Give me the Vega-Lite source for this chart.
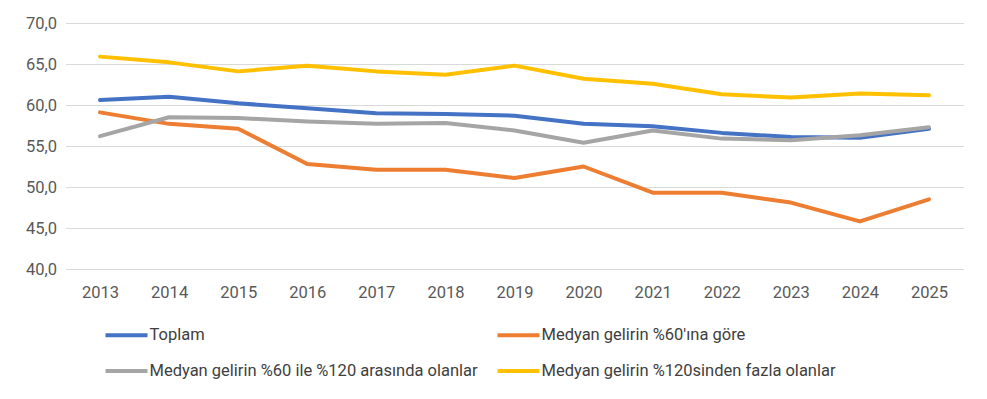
{
  "$schema": "https://vega.github.io/schema/vega-lite/v6.json",
  "width": 898,
  "height": 246,
  "autosize": {"type": "none"},
  "padding": {"left": 65.5, "top": 23, "right": 23.5, "bottom": 130},
  "background": "white",
  "config": {
    "font": "Roboto",
    "view": {"stroke": null}
  },
  "data": {
    "values": [
      {"year": "2013", "series": "Toplam", "value": 60.6},
      {"year": "2014", "series": "Toplam", "value": 61.0},
      {"year": "2015", "series": "Toplam", "value": 60.2},
      {"year": "2016", "series": "Toplam", "value": 59.6},
      {"year": "2017", "series": "Toplam", "value": 59.0},
      {"year": "2018", "series": "Toplam", "value": 58.9},
      {"year": "2019", "series": "Toplam", "value": 58.7},
      {"year": "2020", "series": "Toplam", "value": 57.7},
      {"year": "2021", "series": "Toplam", "value": 57.4},
      {"year": "2022", "series": "Toplam", "value": 56.6},
      {"year": "2023", "series": "Toplam", "value": 56.1},
      {"year": "2024", "series": "Toplam", "value": 56.0},
      {"year": "2025", "series": "Toplam", "value": 57.1},
      {"year": "2013", "series": "Medyan gelirin %60'ına göre", "value": 59.1},
      {"year": "2014", "series": "Medyan gelirin %60'ına göre", "value": 57.7},
      {"year": "2015", "series": "Medyan gelirin %60'ına göre", "value": 57.1},
      {"year": "2016", "series": "Medyan gelirin %60'ına göre", "value": 52.8},
      {"year": "2017", "series": "Medyan gelirin %60'ına göre", "value": 52.1},
      {"year": "2018", "series": "Medyan gelirin %60'ına göre", "value": 52.1},
      {"year": "2019", "series": "Medyan gelirin %60'ına göre", "value": 51.1},
      {"year": "2020", "series": "Medyan gelirin %60'ına göre", "value": 52.5},
      {"year": "2021", "series": "Medyan gelirin %60'ına göre", "value": 49.3},
      {"year": "2022", "series": "Medyan gelirin %60'ına göre", "value": 49.3},
      {"year": "2023", "series": "Medyan gelirin %60'ına göre", "value": 48.1},
      {"year": "2024", "series": "Medyan gelirin %60'ına göre", "value": 45.8},
      {"year": "2025", "series": "Medyan gelirin %60'ına göre", "value": 48.5},
      {"year": "2013", "series": "Medyan gelirin %60 ile %120 arasında olanlar", "value": 56.2},
      {"year": "2014", "series": "Medyan gelirin %60 ile %120 arasında olanlar", "value": 58.5},
      {"year": "2015", "series": "Medyan gelirin %60 ile %120 arasında olanlar", "value": 58.4},
      {"year": "2016", "series": "Medyan gelirin %60 ile %120 arasında olanlar", "value": 58.0},
      {"year": "2017", "series": "Medyan gelirin %60 ile %120 arasında olanlar", "value": 57.7},
      {"year": "2018", "series": "Medyan gelirin %60 ile %120 arasında olanlar", "value": 57.8},
      {"year": "2019", "series": "Medyan gelirin %60 ile %120 arasında olanlar", "value": 56.9},
      {"year": "2020", "series": "Medyan gelirin %60 ile %120 arasında olanlar", "value": 55.4},
      {"year": "2021", "series": "Medyan gelirin %60 ile %120 arasında olanlar", "value": 56.9},
      {"year": "2022", "series": "Medyan gelirin %60 ile %120 arasında olanlar", "value": 55.9},
      {"year": "2023", "series": "Medyan gelirin %60 ile %120 arasında olanlar", "value": 55.7},
      {"year": "2024", "series": "Medyan gelirin %60 ile %120 arasında olanlar", "value": 56.3},
      {"year": "2025", "series": "Medyan gelirin %60 ile %120 arasında olanlar", "value": 57.3},
      {"year": "2013", "series": "Medyan gelirin %120sinden fazla olanlar", "value": 65.9},
      {"year": "2014", "series": "Medyan gelirin %120sinden fazla olanlar", "value": 65.2},
      {"year": "2015", "series": "Medyan gelirin %120sinden fazla olanlar", "value": 64.1},
      {"year": "2016", "series": "Medyan gelirin %120sinden fazla olanlar", "value": 64.8},
      {"year": "2017", "series": "Medyan gelirin %120sinden fazla olanlar", "value": 64.1},
      {"year": "2018", "series": "Medyan gelirin %120sinden fazla olanlar", "value": 63.7},
      {"year": "2019", "series": "Medyan gelirin %120sinden fazla olanlar", "value": 64.8},
      {"year": "2020", "series": "Medyan gelirin %120sinden fazla olanlar", "value": 63.2},
      {"year": "2021", "series": "Medyan gelirin %120sinden fazla olanlar", "value": 62.6},
      {"year": "2022", "series": "Medyan gelirin %120sinden fazla olanlar", "value": 61.3},
      {"year": "2023", "series": "Medyan gelirin %120sinden fazla olanlar", "value": 60.9},
      {"year": "2024", "series": "Medyan gelirin %120sinden fazla olanlar", "value": 61.4},
      {"year": "2025", "series": "Medyan gelirin %120sinden fazla olanlar", "value": 61.2}
    ]
  },
  "mark": {"type": "line", "strokeWidth": 4, "strokeCap": "round", "strokeJoin": "round"},
  "encoding": {
    "x": {
      "field": "year",
      "type": "ordinal",
      "scale": {"type": "point", "padding": 0.5},
      "axis": {
        "title": null,
        "labelAngle": 0,
        "domain": false,
        "ticks": false,
        "labelPadding": 15,
        "labelFontSize": 16.5,
        "labelColor": "#595959",
        "labelFont": "Roboto"
      }
    },
    "y": {
      "field": "value",
      "type": "quantitative",
      "scale": {"domain": [40, 70], "nice": false, "zero": false},
      "axis": {
        "title": null,
        "values": [40, 45, 50, 55, 60, 65, 70],
        "labelExpr": "replace(format(datum.value, '.1f'), '.', ',')",
        "domain": false,
        "ticks": false,
        "labelPadding": 9,
        "labelFontSize": 16.5,
        "labelColor": "#595959",
        "labelFont": "Roboto",
        "gridColor": "#d9d9d9",
        "gridWidth": 1
      }
    },
    "color": {
      "field": "series",
      "type": "nominal",
      "sort": ["Toplam", "Medyan gelirin %60'ına göre", "Medyan gelirin %60 ile %120 arasında olanlar", "Medyan gelirin %120sinden fazla olanlar"],
      "scale": {
        "domain": ["Toplam", "Medyan gelirin %60'ına göre", "Medyan gelirin %60 ile %120 arasında olanlar", "Medyan gelirin %120sinden fazla olanlar"],
        "range": ["#4472C4", "#ED7D31", "#A5A5A5", "#FFC000"]
      },
      "legend": {
        "title": null,
        "orient": "none",
        "legendX": 38,
        "legendY": 289,
        "direction": "horizontal",
        "columns": 2,
        "symbolType": "stroke",
        "symbolStrokeWidth": 4,
        "symbolSize": 1764,
        "symbolOffset": 0,
        "labelOffset": 0,
        "labelFontSize": 16.5,
        "labelColor": "#404040",
        "labelFont": "Roboto",
        "labelLimit": 400,
        "rowPadding": 4,
        "columnPadding": 11
      }
    }
  }
}
